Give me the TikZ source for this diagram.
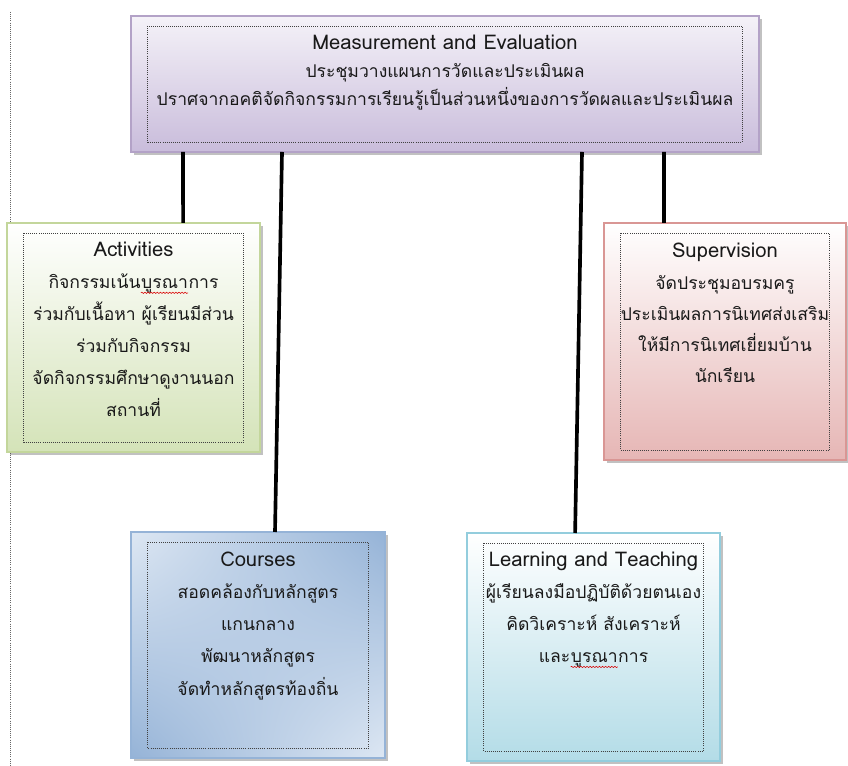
\documentclass[tikz,border=0pt]{standalone}
\usepackage{fontspec}
\setmainfont[Script=Thai]{Loma}
\usetikzlibrary{shadows,shadings,decorations.pathmorphing}

\definecolor{measedge}{HTML}{B3A2C7}
\definecolor{measlow}{HTML}{C9BCDB}
\definecolor{actedge}{HTML}{C3D69B}
\definecolor{actlow}{HTML}{D4E3B8}
\definecolor{supedge}{HTML}{D99694}
\definecolor{suplow}{HTML}{E6B6B5}
\definecolor{crsedge}{HTML}{95B3D7}
\definecolor{crslight}{HTML}{DDE7F3}
\definecolor{learnedge}{HTML}{93CDDD}
\definecolor{learnlow}{HTML}{B3DCE7}

% red spelling squiggle under a word
\newcommand{\spellwave}[1]{\tikz[baseline=(sw.base)]{\node[inner sep=0pt] (sw) {#1};
  \draw[red!85!black, line width=0.4pt, decorate,
    decoration={snake, amplitude=0.45pt, segment length=2.2pt}]
    ([yshift=-3pt]sw.base west) -- ([yshift=-3pt]sw.base east);}}
% english heading line of a box
\newcommand{\cardhead}[1]{{\fontsize{14.4}{22.8}\selectfont #1}}

\tikzset{
  card/.style={rectangle, inner sep=0pt, outer sep=0pt, line width=0.8pt,
    drop shadow={shadow xshift=2pt, shadow yshift=-2pt, opacity=0.35, fill=black!70}},
  cardtext/.style={align=center, inner sep=0pt, text=black!90,
    font=\fontsize{12.5}{22.8}\selectfont},
  innerline/.style={densely dotted, draw=black!75, line width=0.5pt},
  link/.style={line width=2.6pt, black},
}

\begin{document}
\begin{tikzpicture}
        \useasboundingbox (0,0) rectangle (21.2,19.15);
        % Margin line
        \draw[densely dotted, black!60, line width=0.5pt] (0.25,18.85) -- (0.25,0);

        % Boxes
        \node[card, draw=measedge, top color=measlow!20, bottom color=measlow,
          minimum width=15.7cm, minimum height=3.4cm] (meas) at (11.125,17.05) {};
        \node[card, draw=actedge, top color=white, bottom color=actlow,
          minimum width=6.325cm, minimum height=5.725cm] (act) at (3.3375,10.7125) {};
        \node[card, draw=supedge, top color=white, bottom color=suplow,
          minimum width=6.05cm, minimum height=5.925cm] (sup) at (18.125,10.6125) {};
        \node[card, draw=crsedge, shading=bilinear interpolation,
          upper left=crslight, lower right=crslight,
          upper right=crsedge, lower left=crsedge,
          minimum width=6.35cm, minimum height=5.65cm] (crs) at (6.45,3.025) {};
        \node[card, draw=learnedge, top color=white, bottom color=learnlow,
          minimum width=6.325cm, minimum height=5.7cm] (learn) at (14.8375,2.975) {};

        % Dotted inner frames
        \foreach \n in {meas,act,sup,crs,learn}
          \draw[innerline] ([shift={(0.42,-0.25)}]\n.north west) rectangle ([shift={(-0.42,0.25)}]\n.south east);

        % Links
        \draw[link] ([xshift=-6.55cm]meas.south) -- ([xshift=1.24cm]act.north);
        \draw[link] ([xshift=-4.075cm]meas.south) -- ([xshift=0.425cm]crs.north);
        \draw[link] ([xshift=3.425cm]meas.south) -- ([xshift=-0.46cm]learn.north);
        \draw[link] ([xshift=5.475cm]meas.south) -- ([xshift=-1.525cm]sup.north);

        % Texts
        \node[cardtext, font=\fontsize{12.5}{19.9}\selectfont, anchor=north] (meastxt)
          at ([yshift=-0.47cm]meas.north) {\cardhead{Measurement and Evaluation}\\
          ประชุมวางแผนการวัดและประเมินผล\\
          ปราศจากอคติจัดกิจกรรมการเรียนรู้เป็นส่วนหนึ่งของการวัดผลและประเมินผล};
        \node[cardtext, anchor=north] (acttxt) at ([yshift=-0.47cm]act.north) {\cardhead{Activities}\\
          กิจกรรมเน้น\spellwave{บูรณา}การ\\
          ร่วมกับเนื้อหา ผู้เรียนมีส่วน\\
          ร่วมกับกิจกรรม\\
          จัดกิจกรรมศึกษาดูงานนอก\\
          สถานที่};
        \node[cardtext, font=\fontsize{12.5}{22.2}\selectfont, anchor=north] (suptxt)
          at ([yshift=-0.5cm]sup.north) {\cardhead{Supervision}\\
          จัดประชุมอบรมครู\\
          ประเมินผลการนิเทศส่งเสริม\\
          ให้มีการนิเทศเยี่ยมบ้าน\\
          นักเรียน};
        \node[cardtext, anchor=north] (crstxt) at ([yshift=-0.5cm]crs.north) {\cardhead{Courses}\\
          สอดคล้องกับหลักสูตร\\
          แกนกลาง\\
          พัฒนาหลักสูตร\\
          จัดทำหลักสูตรท้องถิ่น};
        \node[cardtext, anchor=north] (learntxt) at ([yshift=-0.47cm]learn.north) {\cardhead{Learning and Teaching}\\
          ผู้เรียนลงมือปฏิบัติด้วยตนเอง\\
          คิดวิเคราะห์ สังเคราะห์\\
          และ\spellwave{บูรณา}การ};

    \end{tikzpicture}
\end{document}
